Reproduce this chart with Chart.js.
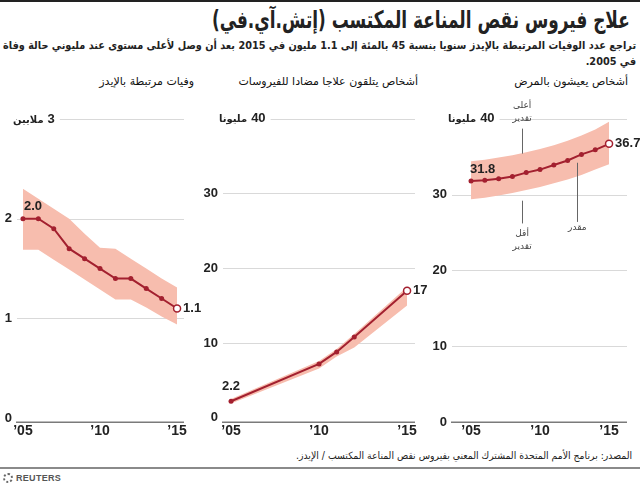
<!DOCTYPE html>
<html lang="ar">
<head>
<meta charset="utf-8">
<script src="https://cdn.jsdelivr.net/npm/chart.js@4.4.1/dist/chart.umd.min.js"></script>
<style>
  html, body { margin: 0; padding: 0; background: #fff; }
  #page { position: relative; width: 640px; height: 487px; overflow: hidden; color: #222;
          font-family: 'DejaVu Sans', 'Liberation Sans', sans-serif; }
  .topline { position: absolute; left: 0; top: 0; width: 640px; height: 2px; background: #222; }
  .title { position: absolute; right: 10px; top: 6px; font-size: 24px; font-weight: bold;
           direction: rtl; white-space: nowrap; }
  .sub { position: absolute; right: 4px; top: 38px; font-size: 11px; font-weight: bold;
         direction: rtl; white-space: nowrap; line-height: 16px; text-align: right; }
  .ptitle { position: absolute; top: 75px; font-size: 11px; direction: rtl; white-space: nowrap; color: #111; }
  .panel { position: absolute; top: 95px; height: 350px; }
  .source { position: absolute; right: 8px; top: 450px; font-size: 10px; direction: rtl;
            white-space: nowrap; }
  .rule { position: absolute; left: 0; top: 467px; width: 640px; height: 2px; background: #8a8a8a; }
  .logo { position: absolute; left: 3px; top: 473px; font: bold 9px 'Liberation Sans', sans-serif;
          color: #555; letter-spacing: 0.3px; }
  .logo i { display: inline-block; width: 6px; height: 6px; border: 2px dotted #666;
            border-radius: 50%; vertical-align: -2px; margin-right: 3px; }
</style>
</head>
<body>
<div id="page">
  <div class="topline"></div>
  <div class="title" id="title">علاج فيروس نقص المناعة المكتسب (إتش.آي.في)</div>
  <div class="sub" id="sub">تراجع عدد الوفيات المرتبطة بالإيدز سنويا بنسبة 45 بالمئة إلى 1.1 مليون في 2015 بعد أن وصل لأعلى مستوى عند مليوني حالة وفاة<br>في 2005.</div>
  <div class="ptitle" style="right:12px">أشخاص يعيشون بالمرض</div>
  <div class="ptitle" style="right:222px">أشخاص يتلقون علاجا مضادا للفيروسات</div>
  <div class="ptitle" style="right:446px">وفيات مرتبطة بالإيدز</div>

  <div class="panel" style="left:0;width:205px"><canvas id="chart-deaths"></canvas></div>
  <div class="panel" style="left:200px;width:240px"><canvas id="chart-art"></canvas></div>
  <div class="panel" style="left:428px;width:212px"><canvas id="chart-plhiv"></canvas></div>

  <div class="source" id="source">المصدر: برنامج الأمم المتحدة المشترك المعني بفيروس نقص المناعة المكتسب / الإيدز.</div>
  <div class="rule"></div>
  <div class="logo"><i></i>REUTERS</div>
</div>

<script>
// AIDS-related deaths, millions
const deathYears = [2005, 2006, 2007, 2008, 2009, 2010, 2011, 2012, 2013, 2014, 2015];
const deathEst = [2.0, 2.0, 1.9, 1.7, 1.6, 1.5, 1.4, 1.4, 1.3, 1.2, 1.1];
const deathHigh = [2.30, 2.20, 2.10, 2.00, 1.85, 1.71, 1.70, 1.60, 1.50, 1.40, 1.31];
const deathLow = [1.69, 1.69, 1.59, 1.49, 1.39, 1.29, 1.19, 1.19, 1.11, 1.02, 0.94];
const deathTicks = [0, 1, 2, 3];

// People receiving antiretroviral therapy, millions
const artYears = [2005, 2010, 2011, 2012, 2015];
const artEst = [2.2, 7.2, 8.8, 10.8, 17.0];
const artHigh = [2.5, 7.6, 9.2, 11.2, 17.5];
const artLow = [1.9, 6.6, 8.2, 9.4, 15.0];
const artTicks = [0, 10, 20, 30, 40];

// People living with HIV, millions
const plhivYears = [2005, 2006, 2007, 2008, 2009, 2010, 2011, 2012, 2013, 2014, 2015];
const plhivEst = [31.8, 31.9, 32.1, 32.4, 32.9, 33.3, 33.9, 34.5, 35.3, 35.9, 36.7];
const plhivHigh = [34.4, 34.6, 34.9, 35.2, 35.6, 36.0, 36.5, 37.1, 37.8, 38.6, 39.6];
const plhivLow = [29.4, 29.6, 29.9, 30.2, 30.6, 31.0, 31.5, 32.0, 32.6, 33.3, 34.0];
const plhivTicks = [0, 10, 20, 30, 40];

const xTicks = [2005, 2010, 2015];

const LINE = '#a3202f';
const BAND = '#f7bdae';
const NUM_FONT = 'bold 13px "Liberation Sans", "DejaVu Sans", sans-serif';
const UNIT_FONT = 'bold 10px "DejaVu Sans", sans-serif';

// DejaVu's Arabic runs wider than the original's Arial, so squeeze the
// heading lines horizontally to the width they take in the source graphic.
function fitWidth(id, target) {
  const el = document.getElementById(id);
  el.style.transformOrigin = 'right top';
  el.style.transform = `scaleX(${target / el.scrollWidth})`;
}
fitWidth('title', 418);
fitWidth('sub', 633);
fitWidth('source', 336);

function pts(xs, ys) {
  return xs.map((x, i) => ({ x, y: ys[i] }));
}

// Gridlines start just right of each tick label, like the original layout;
// the top tick carries the unit and is written left-aligned after the numbers.
const panelAxis = {
  id: 'panelAxis',
  beforeDatasetsDraw(chart) {
    const o = chart.options.plugins.panelAxis;
    const { ctx, chartArea: ca } = chart;
    const y = chart.scales.y;
    ctx.save();
    ctx.textBaseline = 'middle';
    ctx.fillStyle = '#222';
    o.ticks.forEach((v, i) => {
      const py = y.getPixelForValue(v);
      const top = i === o.ticks.length - 1;
      let start;
      if (top) {
        // unit word sits on the left, the number on its right (RTL reading)
        ctx.textAlign = 'left';
        ctx.font = UNIT_FONT;
        const uw = ctx.measureText(o.unit).width;
        ctx.fillText(o.unit, ca.left + 1, py + 1);
        ctx.font = NUM_FONT;
        const nx = ca.left + 1 + uw + 4;
        ctx.fillText(String(v), nx, py);
        start = nx + ctx.measureText(String(v)).width + 5;
      } else {
        ctx.font = NUM_FONT;
        ctx.textAlign = 'right';
        ctx.fillText(String(v), ca.left, py);
        start = ca.left + 5;
      }
      if (v !== 0) {
        ctx.strokeStyle = '#d9d9d9';
        ctx.lineWidth = 1;
        ctx.beginPath();
        ctx.moveTo(start, Math.round(py) + 0.5);
        ctx.lineTo(ca.right, Math.round(py) + 0.5);
        ctx.stroke();
      }
    });
    ctx.strokeStyle = '#7a7a7a';
    ctx.lineWidth = 1.5;
    ctx.beginPath();
    ctx.moveTo(ca.left + 4, ca.bottom);
    ctx.lineTo(ca.right, ca.bottom);
    ctx.stroke();
    ctx.restore();
  },
  afterDatasetsDraw(chart) {
    const o = chart.options.plugins.panelAxis;
    const { ctx } = chart;
    const meta = chart.getDatasetMeta(0);
    const first = meta.data[0];
    const last = meta.data[meta.data.length - 1];
    const vals = chart.data.datasets[0].data;
    ctx.save();
    ctx.font = NUM_FONT;
    ctx.fillStyle = '#222';
    ctx.textBaseline = 'middle';
    ctx.textAlign = o.firstAlign;
    ctx.fillText(vals[0].y.toFixed(o.firstDigits), first.x + o.firstDx, first.y + o.firstDy);
    ctx.textAlign = 'left';
    ctx.fillText(vals[vals.length - 1].y.toFixed(o.lastDigits), last.x + 6, last.y);

    (o.notes || []).forEach((n) => {
      const px = chart.scales.x.getPixelForValue(n.x);
      ctx.strokeStyle = '#666';
      ctx.lineWidth = 1;
      ctx.beginPath();
      ctx.moveTo(Math.round(px) + 0.5, chart.scales.y.getPixelForValue(n.from));
      ctx.lineTo(Math.round(px) + 0.5, chart.scales.y.getPixelForValue(n.to));
      ctx.stroke();
      ctx.font = '9px "DejaVu Sans", sans-serif';
      ctx.fillStyle = '#444';
      ctx.textAlign = 'center';
      ctx.direction = 'rtl';
      n.lines.forEach((t, k) => {
        ctx.fillText(t, px, chart.scales.y.getPixelForValue(n.textY) + k * 13);
      });
    });
    ctx.restore();
  },
};

function makePanel(id, xs, est, high, low, o) {
  const n = xs.length;
  return new Chart(document.getElementById(id), {
    type: 'line',
    data: {
      datasets: [
        {
          data: pts(xs, est),
          borderColor: LINE,
          borderWidth: 2,
          pointRadius: xs.map((_, i) => (i === n - 1 ? 3.5 : 2.5)),
          pointBackgroundColor: xs.map((_, i) => (i === n - 1 ? '#fff' : LINE)),
          pointBorderColor: LINE,
          pointBorderWidth: xs.map((_, i) => (i === n - 1 ? 1.5 : 0)),
          fill: false,
        },
        { data: pts(xs, high), borderWidth: 0, pointRadius: 0, backgroundColor: BAND, fill: '+1' },
        { data: pts(xs, low), borderWidth: 0, pointRadius: 0, fill: false },
      ],
    },
    options: {
      responsive: true,
      maintainAspectRatio: false,
      animation: false,
      layout: { padding: { left: o.padLeft, right: o.padRight, top: 23, bottom: 4 } },
      plugins: {
        legend: { display: false },
        tooltip: { enabled: false },
        panelAxis: o,
      },
      scales: {
        x: {
          type: 'linear',
          min: o.xMin,
          max: o.xMax,
          grid: { display: false, drawTicks: false },
          border: { display: false },
          afterBuildTicks: (s) => { s.ticks = xTicks.map((v) => ({ value: v })); },
          ticks: {
            padding: 1,
            color: '#222',
            font: { family: '"Liberation Sans", sans-serif', size: 14, weight: 'bold' },
            maxRotation: 0,
            callback: (v) => '\u2019' + String(v).slice(2),
          },
        },
        y: { display: false, min: o.yMin, max: o.yMax },
      },
    },
    plugins: [panelAxis],
  });
}

makePanel('chart-deaths', deathYears, deathEst, deathHigh, deathLow, {
  ticks: deathTicks, unit: 'ملايين', yMin: -0.04, yMax: 3.01,
  xMin: 2004.29, xMax: 2015.45, padLeft: 12, padRight: 21,
  firstAlign: 'left', firstDx: 1, firstDy: -12, firstDigits: 1, lastDigits: 1,
});

makePanel('chart-art', artYears, artEst, artHigh, artLow, {
  ticks: artTicks, unit: 'مليونا', yMin: -0.6, yMax: 40.1,
  xMin: 2004.26, xMax: 2015.45, padLeft: 18, padRight: 25,
  firstAlign: 'center', firstDx: 0, firstDy: -15, firstDigits: 1, lastDigits: 0,
});

makePanel('chart-plhiv', plhivYears, plhivEst, plhivHigh, plhivLow, {
  ticks: plhivTicks, unit: 'مليونا', yMin: 0, yMax: 40.1,
  xMin: 2003.26, xMax: 2016.3, padLeft: 19, padRight: 13,
  firstAlign: 'left', firstDx: -1, firstDy: -12, firstDigits: 1, lastDigits: 1,
  notes: [
    { x: 2008.7, from: 38.7, to: 35.4, textY: 41.7, lines: ['أعلى', 'تقدير'] },
    { x: 2008.7, from: 29.2, to: 26.2, textY: 24.9, lines: ['أقل', 'تقدير'] },
    { x: 2012.7, from: 34.2, to: 26.4, textY: 25.6, lines: ['مقدر'] },
  ],
});
</script>
</body>
</html>
